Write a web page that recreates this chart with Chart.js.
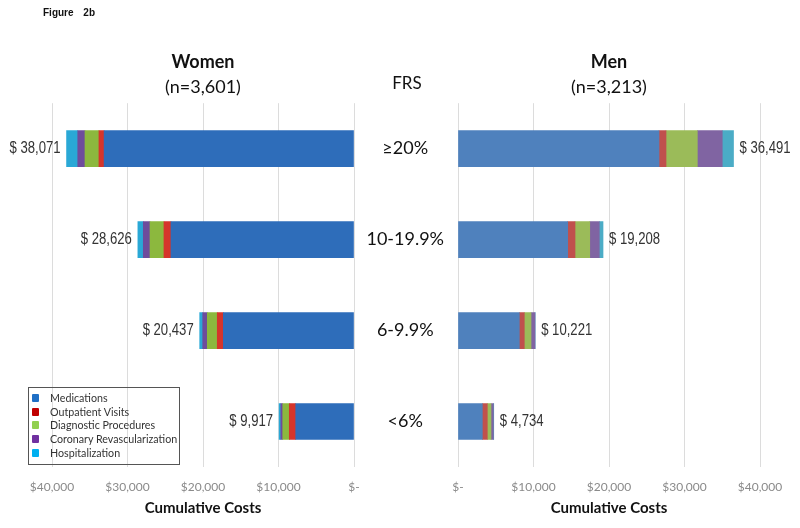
<!DOCTYPE html>
<html>
<head>
<meta charset="utf-8">
<script src="https://cdn.jsdelivr.net/npm/chart.js@4/dist/chart.umd.min.js"></script>
<style>
  html, body { margin:0; padding:0; background:#fff; }
  #wrap { position:relative; width:800px; height:528px; overflow:hidden; }
  canvas { position:absolute; left:0; top:0; }
  .txt { position:absolute; white-space:nowrap; }
  #fig { left:43px; top:7px; font:bold 10px "Liberation Sans", Arial, sans-serif; word-spacing:7px; color:#111; }
  #frs { left:407px; top:82px; transform:translate(-50%,-50%); font:17px Lato, "Open Sans", sans-serif; color:#111; }
  #legend { position:absolute; left:28px; top:387px; width:150px; height:76px; border:1px solid #555; }
  .li { position:absolute; left:2px; width:146px; height:12px; font:10.7px Lato, "Open Sans", sans-serif; color:#333; line-height:12px; white-space:nowrap; }
  .li span.m { position:absolute; left:1px; top:2px; width:7px; height:8px; border-radius:1px; }
  .li span.t { position:absolute; left:19px; top:0; white-space:nowrap; }
</style>
</head>
<body>
<div id="wrap">
  <canvas id="cw" width="800" height="528"></canvas>
  <canvas id="cm" width="800" height="528"></canvas>
  <div class="txt" id="fig">Figure 2b</div>
  <div class="txt" id="frs">FRS</div>
  <div id="legend"></div>
</div>
<script>
// ---- data ----
const categories = ['≥20%', '10-19.9%', '6-9.9%', '<6%'];
const seriesNames = ['Medications', 'Outpatient Visits', 'Diagnostic Procedures', 'Coronary Revascularization', 'Hospitalization'];

const womenMedications       = [33100, 24240, 17310, 7720];
const womenOutpatient        = [680, 930, 800, 850];
const womenDiagnostic        = [1850, 1850, 1320, 870];
const womenRevascularization = [960, 890, 610, 250];
const womenHospitalization   = [1481, 716, 397, 227];
const womenTotals            = [38071, 28626, 20437, 9917];

const menMedications       = [26620, 14530, 8120, 3220];
const menOutpatient        = [930, 970, 660, 660];
const menDiagnostic        = [4150, 1950, 890, 490];
const menRevascularization = [3300, 1265, 530, 310];
const menHospitalization   = [1491, 493, 21, 54];
const menTotals            = [36491, 19208, 10221, 4734];

const xTicks = [0, 10000, 20000, 30000, 40000];

// ---- styles ----
const womenColors  = ['#2E6DBA', '#D5352B', '#8CB83E', '#6E4C9C', '#2AA8D6'];
const menColors    = ['#4F81BD', '#C0504D', '#9BBB59', '#8064A2', '#4BACC6'];
const legendColors = ['#1F6FC5', '#C00000', '#92D050', '#7030A0', '#00B0F0'];
const sansFont = 'Lato, "Open Sans", sans-serif';
const labelFont = '"Liberation Sans", Arial, sans-serif';

Chart.defaults.font.family = sansFont;

function money(v) {
  return v === 0 ? '$-' : '$' + v.toLocaleString('en-US');
}

function makeDatasets(series, colors) {
  return series.map((d, i) => ({
    label: seriesNames[i],
    data: d,
    backgroundColor: colors[i],
    borderWidth: 0,
    barThickness: 36
  }));
}

// value labels in a condensed (narrow) face: Liberation Sans squeezed horizontally
function totalsPlugin(totals, side) {
  const squeeze = 0.82;
  return {
    id: 'totals_' + side,
    afterDatasetsDraw(chart) {
      const ctx = chart.ctx;
      const xs = chart.scales.x, ys = chart.scales.y;
      totals.forEach((t, i) => {
        const x = xs.getPixelForValue(t);
        const y = ys.getPixelForValue(i);
        const s = '$ ' + t.toLocaleString('en-US');
        ctx.save();
        ctx.font = '16px ' + labelFont;
        ctx.fillStyle = '#333';
        ctx.textBaseline = 'middle';
        if (side === 'left') {
          ctx.translate(x - 6, y);
          ctx.scale(squeeze, 1);
          ctx.textAlign = 'right';
        } else {
          ctx.translate(x + 6, y);
          ctx.scale(squeeze, 1);
          ctx.textAlign = 'left';
        }
        ctx.fillText(s, 0, 0);
        ctx.restore();
      });
    }
  };
}

function xScale(reverse) {
  return {
    stacked: true,
    reverse: reverse,
    min: 0, max: 40000,
    afterBuildTicks(scale) { scale.ticks = xTicks.map(v => ({ value: v })); },
    afterFit(scale) { scale.height = 61; },
    grid: { color: '#dcdcdc', lineWidth: 1, drawTicks: false },
    border: { display: false },
    ticks: {
      padding: 13,
      color: '#8a8a8a',
      font: { size: 12, family: sansFont, lineHeight: 1.2 },
      maxRotation: 0,
      callback: (v) => money(v)
    },
    title: {
      display: true,
      text: 'Cumulative Costs',
      color: '#111',
      font: { size: 15, weight: 'bold', family: sansFont, lineHeight: 1.2 },
      padding: { top: 0, bottom: 11 }
    }
  };
}

function titleOpts(t, sub) {
  return {
    title: {
      display: true, text: t, fullSize: false, color: '#111',
      font: { size: 18, weight: 'bold', family: sansFont, lineHeight: 1.2 },
      padding: { top: 51, bottom: 0 }
    },
    subtitle: {
      display: true, text: sub, fullSize: false, color: '#111',
      font: { size: 18, weight: 'normal', family: sansFont, lineHeight: 1.2 },
      padding: { top: 4, bottom: 5 }
    }
  };
}

// Women (left, reversed axis)
new Chart(document.getElementById('cw'), {
  type: 'bar',
  data: {
    labels: categories,
    datasets: makeDatasets([womenMedications, womenOutpatient, womenDiagnostic, womenRevascularization, womenHospitalization], womenColors)
  },
  options: {
    indexAxis: 'y',
    responsive: false,
    animation: false,
    devicePixelRatio: 1,
    layout: { padding: { left: 52, right: 446, top: 0, bottom: 0 } },
    scales: {
      x: xScale(true),
      y: { stacked: true, display: false }
    },
    plugins: Object.assign({ legend: { display: false }, tooltip: { enabled: false } }, titleOpts('Women', '(n=3,601)'))
  },
  plugins: [totalsPlugin(womenTotals, 'left')]
});

// Men (right)
new Chart(document.getElementById('cm'), {
  type: 'bar',
  data: {
    labels: categories,
    datasets: makeDatasets([menMedications, menOutpatient, menDiagnostic, menRevascularization, menHospitalization], menColors)
  },
  options: {
    indexAxis: 'y',
    responsive: false,
    animation: false,
    devicePixelRatio: 1,
    layout: { padding: { left: 352, right: 40, top: 0, bottom: 0 } },
    scales: {
      x: xScale(false),
      y: {
        stacked: true,
        afterFit(scale) { scale.width = 106; },
        grid: { display: false, drawTicks: false },
        border: { display: false },
        ticks: {
          crossAlign: 'center',
          padding: 14,
          color: '#111',
          font: { size: 18, family: sansFont }
        }
      }
    },
    plugins: Object.assign({ legend: { display: false }, tooltip: { enabled: false } }, titleOpts('Men', '(n=3,213)'))
  },
  plugins: [totalsPlugin(menTotals, 'right')]
});

// Legend (HTML, built from series names)
const lg = document.getElementById('legend');
seriesNames.forEach((n, i) => {
  const d = document.createElement('div');
  d.className = 'li';
  d.style.top = (4 + i * 13.7) + 'px';
  d.innerHTML = '<span class="m" style="background:' + legendColors[i] + '"></span><span class="t"></span>';
  d.querySelector('.t').textContent = n;
  lg.appendChild(d);
});
</script>
</body>
</html>
